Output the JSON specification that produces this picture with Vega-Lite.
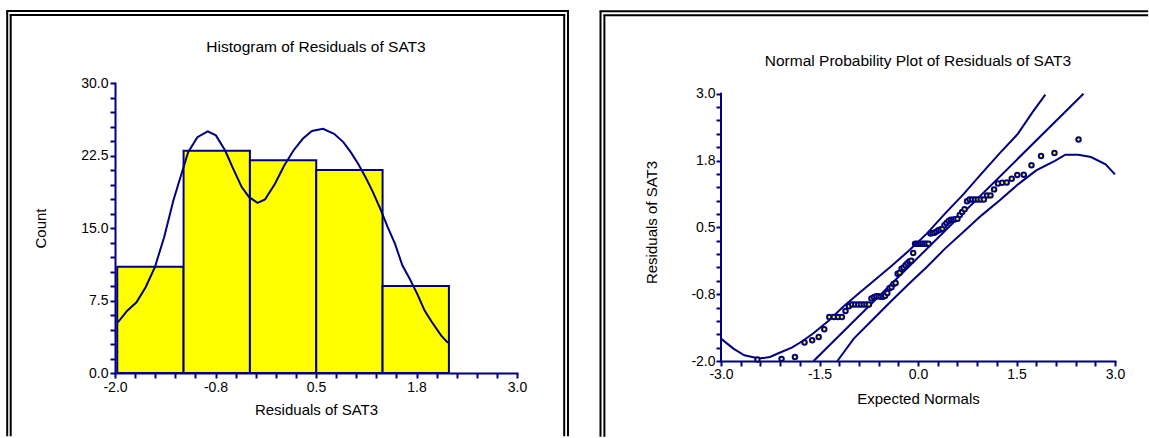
{
  "$schema": "https://vega.github.io/schema/vega-lite/v6.json",
  "background": "white",
  "padding": {"left": 5, "top": 9, "right": 0, "bottom": 0},
  "spacing": 29,
  "config": {
    "view": {"stroke": null},
    "font": "Liberation Sans",
    "axis": {
      "domainColor": "#000080", "domainWidth": 2, "domainCap": "square",
      "tickColor": "#000080", "tickWidth": 2, "tickSize": 5, "tickCount": 100,
      "grid": false,
      "labelFont": "Liberation Sans", "labelFontSize": 14, "labelColor": "#000000",
      "titleFont": "Liberation Sans", "titleFontSize": 15, "titleFontWeight": "normal", "titleColor": "#000000",
      "labelFlush": false, "labelOverlap": false
    }
  },
  "datasets": {
    "bins": [
      {"bin_start": -1.972, "bin_end": -1.147, "count": 11},
      {"bin_start": -1.147, "bin_end": -0.322, "count": 23},
      {"bin_start": -0.322, "bin_end": 0.503, "count": 22},
      {"bin_start": 0.503, "bin_end": 1.328, "count": 21},
      {"bin_start": 1.328, "bin_end": 2.153, "count": 9}
    ],
    "density": [
      {"residual": -1.963, "count": 5.25}, {"residual": -1.848, "count": 6.45}, {"residual": -1.733, "count": 7.32},
      {"residual": -1.619, "count": 8.87}, {"residual": -1.504, "count": 10.94}, {"residual": -1.389, "count": 14.05},
      {"residual": -1.274, "count": 17.85}, {"residual": -1.205, "count": 19.74}, {"residual": -1.09, "count": 22.85},
      {"residual": -0.975, "count": 24.4}, {"residual": -0.847, "count": 24.99}, {"residual": -0.745, "count": 24.58},
      {"residual": -0.63, "count": 23.02}, {"residual": -0.539, "count": 21.3}, {"residual": -0.424, "count": 19.23},
      {"residual": -0.332, "count": 18.19}, {"residual": -0.226, "count": 17.6}, {"residual": -0.134, "count": 17.95},
      {"residual": -0.01, "count": 19.57}, {"residual": 0.105, "count": 21.47}, {"residual": 0.22, "count": 23.02},
      {"residual": 0.335, "count": 24.23}, {"residual": 0.449, "count": 25.03}, {"residual": 0.587, "count": 25.27},
      {"residual": 0.725, "count": 24.75}, {"residual": 0.84, "count": 23.89}, {"residual": 0.932, "count": 22.85},
      {"residual": 1.024, "count": 21.64}, {"residual": 1.116, "count": 20.26}, {"residual": 1.208, "count": 18.71},
      {"residual": 1.3, "count": 16.98}, {"residual": 1.392, "count": 15.08}, {"residual": 1.483, "count": 13.36},
      {"residual": 1.575, "count": 11.11}, {"residual": 1.667, "count": 9.73}, {"residual": 1.759, "count": 8.18},
      {"residual": 1.851, "count": 6.45}, {"residual": 1.943, "count": 5.25}, {"residual": 2.058, "count": 3.87},
      {"residual": 2.141, "count": 3.11}
    ],
    "points": [
      {"expected": -2.445, "residual": -1.97}, {"expected": -2.078, "residual": -1.96}, {"expected": -1.874, "residual": -1.925},
      {"expected": -1.728, "residual": -1.655}, {"expected": -1.611, "residual": -1.613}, {"expected": -1.512, "residual": -1.55},
      {"expected": -1.427, "residual": -1.407}, {"expected": -1.351, "residual": -1.177}, {"expected": -1.282, "residual": -1.177},
      {"expected": -1.218, "residual": -1.177}, {"expected": -1.159, "residual": -1.177}, {"expected": -1.104, "residual": -1.065},
      {"expected": -1.052, "residual": -0.975}, {"expected": -1.003, "residual": -0.945}, {"expected": -0.956, "residual": -0.945},
      {"expected": -0.911, "residual": -0.945}, {"expected": -0.868, "residual": -0.945}, {"expected": -0.826, "residual": -0.945},
      {"expected": -0.786, "residual": -0.945}, {"expected": -0.747, "residual": -0.945}, {"expected": -0.709, "residual": -0.833},
      {"expected": -0.672, "residual": -0.805}, {"expected": -0.636, "residual": -0.79}, {"expected": -0.601, "residual": -0.79},
      {"expected": -0.567, "residual": -0.8}, {"expected": -0.533, "residual": -0.8}, {"expected": -0.5, "residual": -0.78},
      {"expected": -0.467, "residual": -0.73}, {"expected": -0.435, "residual": -0.64}, {"expected": -0.403, "residual": -0.62},
      {"expected": -0.372, "residual": -0.56}, {"expected": -0.341, "residual": -0.54}, {"expected": -0.31, "residual": -0.37},
      {"expected": -0.28, "residual": -0.35}, {"expected": -0.25, "residual": -0.275}, {"expected": -0.22, "residual": -0.25},
      {"expected": -0.19, "residual": -0.21}, {"expected": -0.161, "residual": -0.17}, {"expected": -0.131, "residual": -0.14},
      {"expected": -0.102, "residual": -0.125}, {"expected": -0.073, "residual": 0.02}, {"expected": -0.044, "residual": 0.195},
      {"expected": -0.015, "residual": 0.195}, {"expected": 0.015, "residual": 0.195}, {"expected": 0.044, "residual": 0.195},
      {"expected": 0.073, "residual": 0.195}, {"expected": 0.102, "residual": 0.195}, {"expected": 0.131, "residual": 0.195},
      {"expected": 0.161, "residual": 0.195}, {"expected": 0.19, "residual": 0.385}, {"expected": 0.22, "residual": 0.393},
      {"expected": 0.25, "residual": 0.4}, {"expected": 0.28, "residual": 0.42}, {"expected": 0.31, "residual": 0.444},
      {"expected": 0.341, "residual": 0.46}, {"expected": 0.372, "residual": 0.476}, {"expected": 0.403, "residual": 0.538},
      {"expected": 0.435, "residual": 0.58}, {"expected": 0.467, "residual": 0.62}, {"expected": 0.5, "residual": 0.643},
      {"expected": 0.533, "residual": 0.643}, {"expected": 0.567, "residual": 0.65}, {"expected": 0.601, "residual": 0.662},
      {"expected": 0.636, "residual": 0.73}, {"expected": 0.672, "residual": 0.787}, {"expected": 0.709, "residual": 0.837},
      {"expected": 0.747, "residual": 0.99}, {"expected": 0.786, "residual": 1.02}, {"expected": 0.826, "residual": 1.02},
      {"expected": 0.868, "residual": 1.02}, {"expected": 0.911, "residual": 1.02}, {"expected": 0.956, "residual": 1.02},
      {"expected": 1.003, "residual": 1.02}, {"expected": 1.052, "residual": 1.098}, {"expected": 1.104, "residual": 1.098},
      {"expected": 1.159, "residual": 1.21}, {"expected": 1.218, "residual": 1.32}, {"expected": 1.282, "residual": 1.335},
      {"expected": 1.351, "residual": 1.34}, {"expected": 1.427, "residual": 1.41}, {"expected": 1.512, "residual": 1.48},
      {"expected": 1.611, "residual": 1.485}, {"expected": 1.728, "residual": 1.66}, {"expected": 1.874, "residual": 1.833},
      {"expected": 2.078, "residual": 1.89}, {"expected": 2.445, "residual": 2.145}
    ],
    "refline": [
      {"expected": -1.59, "residual": -2.0}, {"expected": 2.52, "residual": 3.0}
    ],
    "upper": [
      {"expected": -3.0, "residual": -1.581}, {"expected": -2.811, "residual": -1.768}, {"expected": -2.644, "residual": -1.893},
      {"expected": -2.421, "residual": -1.955}, {"expected": -2.255, "residual": -1.925}, {"expected": -2.117, "residual": -1.85},
      {"expected": -1.922, "residual": -1.75}, {"expected": -1.756, "residual": -1.626}, {"expected": -1.588, "residual": -1.476},
      {"expected": -1.366, "residual": -1.252}, {"expected": -1.144, "residual": -0.991}, {"expected": -0.922, "residual": -0.758},
      {"expected": -0.699, "residual": -0.528}, {"expected": -0.422, "residual": -0.242}, {"expected": -0.145, "residual": 0.057},
      {"expected": 0.134, "residual": 0.382}, {"expected": 0.411, "residual": 0.756}, {"expected": 0.69, "residual": 1.117},
      {"expected": 0.967, "residual": 1.504}, {"expected": 1.246, "residual": 1.889}, {"expected": 1.523, "residual": 2.252},
      {"expected": 1.745, "residual": 2.656}, {"expected": 1.939, "residual": 2.981}
    ],
    "lower": [
      {"expected": -1.228, "residual": -2.0}, {"expected": -0.978, "residual": -1.581}, {"expected": -0.699, "residual": -1.239},
      {"expected": -0.422, "residual": -0.897}, {"expected": -0.145, "residual": -0.566}, {"expected": 0.134, "residual": -0.242},
      {"expected": 0.411, "residual": 0.102}, {"expected": 0.69, "residual": 0.412}, {"expected": 0.967, "residual": 0.724},
      {"expected": 1.246, "residual": 1.005}, {"expected": 1.523, "residual": 1.304}, {"expected": 1.8, "residual": 1.566},
      {"expected": 2.078, "residual": 1.74}, {"expected": 2.244, "residual": 1.859}, {"expected": 2.439, "residual": 1.859},
      {"expected": 2.634, "residual": 1.815}, {"expected": 2.857, "residual": 1.678}, {"expected": 3.0, "residual": 1.491}
    ]
  },
  "hconcat": [
    {
      "width": 402,
      "height": 290,
      "layer": [
        {
          "data": {"name": "bins"},
          "mark": {"type": "rect", "fill": "#FFFF00", "stroke": "#000080", "strokeWidth": 2},
          "encoding": {
            "x": {
              "field": "bin_start", "type": "quantitative", "title": "Residuals of SAT3",
              "scale": {"domain": [-2, 3], "nice": false, "zero": false},
              "axis": {
                "values": [-2, -1.75, -1.5, -1.25, -1, -0.75, -0.5, -0.25, 0, 0.25, 0.5, 0.75, 1, 1.25, 1.5, 1.75, 2, 2.25, 2.5, 2.75, 3],
                "labelExpr": "indexof([-2, -0.75, 0.5, 1.75, 3], datum.value) >= 0 ? replace(format(datum.value, '.1f'), '\u2212', '-') : ''",
                "labelPadding": 2, "titlePadding": 8, "tickCount": 100
              }
            },
            "x2": {"field": "bin_end"},
            "y": {
              "field": "count", "type": "quantitative", "title": "Count",
              "scale": {"domain": [0, 30], "nice": false, "zero": false},
              "axis": {
                "values": [0, 1.5, 3, 4.5, 6, 7.5, 9, 10.5, 12, 13.5, 15, 16.5, 18, 19.5, 21, 22.5, 24, 25.5, 27, 28.5, 30],
                "labelExpr": "indexof([0, 7.5, 15, 22.5, 30], datum.value) >= 0 ? format(datum.value, '.1f') : ''",
                "labelPadding": 2, "titlePadding": 32, "tickCount": 100
              }
            },
            "y2": {"datum": 0}
          }
        },
        {
          "data": {"name": "density"},
          "mark": {"type": "line", "color": "#000080", "strokeWidth": 2},
          "encoding": {
            "x": {"field": "residual", "type": "quantitative", "title": "Residuals of SAT3"},
            "y": {"field": "count", "type": "quantitative", "title": "Count"}
          }
        },
        {
          "data": {"values": [{}]},
          "mark": {"type": "text", "text": "Histogram of Residuals of SAT3", "font": "Liberation Sans", "fontSize": 15.5, "align": "center", "baseline": "alphabetic", "color": "#000000"},
          "encoding": {"x": {"datum": 0.5, "type": "quantitative", "title": "Residuals of SAT3"}, "y": {"datum": 33.21, "type": "quantitative", "title": "Count"}}
        },
        {
          "data": {"values": [{}]},
          "mark": {"type": "rule", "color": "#000000", "strokeWidth": 2},
          "encoding": {"x": {"datum": -3.3408, "type": "quantitative", "title": "Residuals of SAT3"}, "y": {"datum": 37.436, "type": "quantitative", "title": "Count"}, "y2": {"datum": -6.548}}
        },
        {
          "data": {"values": [{}]},
          "mark": {"type": "rule", "color": "#000000", "strokeWidth": 2},
          "encoding": {"x": {"datum": -3.2973, "type": "quantitative", "title": "Residuals of SAT3"}, "y": {"datum": 37.023, "type": "quantitative", "title": "Count"}, "y2": {"datum": -6.548}}
        },
        {
          "data": {"values": [{}]},
          "mark": {"type": "rule", "color": "#000000", "strokeWidth": 2},
          "encoding": {"x": {"datum": 3.6343, "type": "quantitative", "title": "Residuals of SAT3"}, "y": {"datum": 37.436, "type": "quantitative", "title": "Count"}, "y2": {"datum": -6.548}}
        },
        {
          "data": {"values": [{}]},
          "mark": {"type": "rule", "color": "#000000", "strokeWidth": 2},
          "encoding": {"x": {"datum": 3.5871, "type": "quantitative", "title": "Residuals of SAT3"}, "y": {"datum": 37.023, "type": "quantitative", "title": "Count"}, "y2": {"datum": -6.548}}
        },
        {
          "data": {"values": [{}]},
          "mark": {"type": "rule", "color": "#000000", "strokeWidth": 2, "strokeCap": "square"},
          "encoding": {"y": {"datum": 37.436, "type": "quantitative", "title": "Count"}, "x": {"datum": -3.3408, "type": "quantitative", "title": "Residuals of SAT3"}, "x2": {"datum": 3.6343}}
        },
        {
          "data": {"values": [{}]},
          "mark": {"type": "rule", "color": "#000000", "strokeWidth": 2, "strokeCap": "square"},
          "encoding": {"y": {"datum": 37.023, "type": "quantitative", "title": "Count"}, "x": {"datum": -3.2973, "type": "quantitative", "title": "Residuals of SAT3"}, "x2": {"datum": 3.5871}}
        }
      ]
    },
    {
      "width": 394,
      "height": 278,
      "layer": [
        {
          "data": {"name": "upper"},
          "mark": {"type": "line", "color": "#000080", "strokeWidth": 2},
          "encoding": {
            "x": {
              "field": "expected", "type": "quantitative", "title": "Expected Normals",
              "scale": {"domain": [-3, 3], "nice": false, "zero": false},
              "axis": {
                "values": [-3, -2.7, -2.4, -2.1, -1.8, -1.5, -1.2, -0.9, -0.6, -0.3, 0, 0.3, 0.6, 0.9, 1.2, 1.5, 1.8, 2.1, 2.4, 2.7, 3],
                "labelExpr": "indexof([-3, -1.5, 0, 1.5, 3], datum.value) >= 0 ? replace(format(datum.value, '.1f'), '\u2212', '-') : ''",
                "labelPadding": 1, "titlePadding": 10, "tickCount": 100
              }
            },
            "y": {
              "field": "residual", "type": "quantitative", "title": "Residuals of SAT3",
              "scale": {"domain": [-2, 3.2], "nice": false, "zero": false},
              "axis": {
                "values": [-2, -1.75, -1.5, -1.25, -1, -0.75, -0.5, -0.25, 0, 0.25, 0.5, 0.75, 1, 1.25, 1.5, 1.75, 2, 2.25, 2.5, 2.75, 3],
                "labelExpr": "indexof([-2, -0.75, 0.5, 1.75, 3], datum.value) >= 0 ? replace(format(datum.value, '.1f'), '\u2212', '-') : ''",
                "labelPadding": 1, "titlePadding": 31, "tickCount": 100, "domain": false
              }
            }
          }
        },
        {
          "data": {"values": [{}]},
          "mark": {"type": "rule", "color": "#000080", "strokeWidth": 2, "strokeCap": "square"},
          "encoding": {"x": {"datum": -3, "type": "quantitative", "title": "Expected Normals"}, "y": {"datum": -2, "type": "quantitative", "title": "Residuals of SAT3"}, "y2": {"datum": 3}}
        },
        {
          "data": {"name": "lower"},
          "mark": {"type": "line", "color": "#000080", "strokeWidth": 2},
          "encoding": {
            "x": {"field": "expected", "type": "quantitative", "title": "Expected Normals"},
            "y": {"field": "residual", "type": "quantitative", "title": "Residuals of SAT3"}
          }
        },
        {
          "data": {"name": "refline"},
          "mark": {"type": "line", "color": "#000080", "strokeWidth": 2},
          "encoding": {
            "x": {"field": "expected", "type": "quantitative", "title": "Expected Normals"},
            "y": {"field": "residual", "type": "quantitative", "title": "Residuals of SAT3"}
          }
        },
        {
          "data": {"name": "points"},
          "mark": {"type": "point", "shape": "circle", "filled": true, "fill": "#FFFF00", "stroke": "#000080", "strokeWidth": 2, "size": 20, "opacity": 1},
          "encoding": {
            "x": {"field": "expected", "type": "quantitative", "title": "Expected Normals"},
            "y": {"field": "residual", "type": "quantitative", "title": "Residuals of SAT3"}
          }
        },
        {
          "data": {"values": [{}]},
          "mark": {"type": "text", "text": "Normal Probability Plot of Residuals of SAT3", "font": "Liberation Sans", "fontSize": 15.5, "align": "center", "baseline": "alphabetic", "color": "#000000"},
          "encoding": {"x": {"datum": 0, "type": "quantitative", "title": "Expected Normals"}, "y": {"datum": 3.524, "type": "quantitative", "title": "Residuals of SAT3"}}
        },
        {
          "data": {"values": [{}]},
          "mark": {"type": "rule", "color": "#000000", "strokeWidth": 2},
          "encoding": {"x": {"datum": -4.835, "type": "quantitative", "title": "Expected Normals"}, "y": {"datum": 4.543, "type": "quantitative", "title": "Residuals of SAT3"}, "y2": {"datum": -3.418}}
        },
        {
          "data": {"values": [{}]},
          "mark": {"type": "rule", "color": "#000000", "strokeWidth": 2},
          "encoding": {"x": {"datum": -4.7756, "type": "quantitative", "title": "Expected Normals"}, "y": {"datum": 4.468, "type": "quantitative", "title": "Residuals of SAT3"}, "y2": {"datum": -3.418}}
        },
        {
          "data": {"values": [{}]},
          "mark": {"type": "rule", "color": "#000000", "strokeWidth": 2, "strokeCap": "square"},
          "encoding": {"y": {"datum": 4.543, "type": "quantitative", "title": "Residuals of SAT3"}, "x": {"datum": -4.835, "type": "quantitative", "title": "Expected Normals"}, "x2": {"datum": 3.49}}
        },
        {
          "data": {"values": [{}]},
          "mark": {"type": "rule", "color": "#000000", "strokeWidth": 2, "strokeCap": "square"},
          "encoding": {"y": {"datum": 4.468, "type": "quantitative", "title": "Residuals of SAT3"}, "x": {"datum": -4.7756, "type": "quantitative", "title": "Expected Normals"}, "x2": {"datum": 3.49}}
        }
      ]
    }
  ]
}
